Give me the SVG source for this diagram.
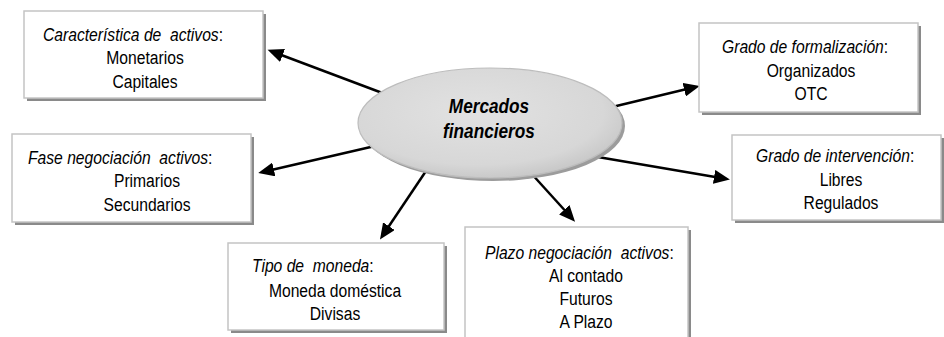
<svg xmlns="http://www.w3.org/2000/svg" width="944" height="337" viewBox="0 0 944 337">
<style>
.shadow{fill:#8a8a8a;}
.box{fill:#ffffff;stroke:#c4c4c4;stroke-width:1.5;}
.t{font-family:"Liberation Sans",Arial,sans-serif;font-size:18px;fill:#000;white-space:pre;}
.h{font-style:italic;}
.c{text-anchor:middle;}
.up{font-style:normal;}
.title{font-family:"Liberation Sans",Arial,sans-serif;font-size:21px;font-weight:bold;font-style:italic;text-anchor:middle;fill:#000;}
.conn{stroke:#000;stroke-width:2.5;fill:none;marker-end:url(#arr);}
</style>
<defs>
<marker id="arr" markerUnits="userSpaceOnUse" markerWidth="17" markerHeight="14" refX="7" refY="7" orient="auto">
<path d="M0,0 L16,7 L0,14 z" fill="#000"/>
</marker>
<radialGradient id="eg" cx="45%" cy="40%" r="60%">
<stop offset="0" stop-color="#e2e2e2"/>
<stop offset="0.8" stop-color="#d7d7d7"/>
<stop offset="1" stop-color="#c9c9c9"/>
</radialGradient>
</defs>
<rect width="944" height="337" fill="#ffffff"/>
<g id="connectors">
<line class="conn" x1="385" y1="94" x2="276" y2="53"/>
<line class="conn" x1="608" y1="108" x2="691" y2="88"/>
<line class="conn" x1="375" y1="146" x2="267" y2="171"/>
<line class="conn" x1="592" y1="156" x2="721" y2="178"/>
<line class="conn" x1="428" y1="168" x2="385" y2="232"/>
<line class="conn" x1="530" y1="172" x2="569" y2="215"/>
</g>
<g id="center">
<ellipse cx="493" cy="126" rx="132" ry="55" fill="#9c9c9c"/>
<ellipse cx="490" cy="123" rx="132" ry="55" fill="url(#eg)" stroke="#bdbdbd" stroke-width="1.2"/>
<text class="title" transform="translate(489,113) scale(0.82,1)">Mercados</text>
<text class="title" transform="translate(489,138) scale(0.82,1)">financieros</text>
</g>
<g id="caracteristica">
<rect class="shadow" x="27" y="14" width="239" height="87"/>
<rect class="box" x="24" y="11" width="239" height="87"/>
<text class="t h" xml:space="preserve" transform="translate(43,40.5) scale(0.87,1)">Característica de  activos<tspan class="up">:</tspan></text>
<text class="t c" transform="translate(145,64) scale(0.87,1)">Monetarios</text>
<text class="t c" transform="translate(145,87.5) scale(0.87,1)">Capitales</text>
</g>
<g id="formalizacion">
<rect class="shadow" x="702" y="26" width="219" height="89"/>
<rect class="box" x="699" y="23" width="219" height="89"/>
<text class="t h" transform="translate(722,53) scale(0.87,1)">Grado de formalización<tspan class="up">:</tspan></text>
<text class="t c" transform="translate(811,76.5) scale(0.87,1)">Organizados</text>
<text class="t c" transform="translate(811,100) scale(0.87,1)">OTC</text>
</g>
<g id="fase">
<rect class="shadow" x="15" y="137" width="239" height="88"/>
<rect class="box" x="12" y="134" width="239" height="88"/>
<text class="t h" xml:space="preserve" transform="translate(28,163.5) scale(0.87,1)">Fase negociación  activos<tspan class="up">:</tspan></text>
<text class="t c" transform="translate(147,187) scale(0.87,1)">Primarios</text>
<text class="t c" transform="translate(147,210.5) scale(0.87,1)">Secundarios</text>
</g>
<g id="intervencion">
<rect class="shadow" x="735" y="138" width="209" height="85"/>
<rect class="box" x="732" y="135" width="209" height="85"/>
<text class="t h" transform="translate(756,162) scale(0.87,1)">Grado de intervención<tspan class="up">:</tspan></text>
<text class="t c" transform="translate(841,185.5) scale(0.87,1)">Libres</text>
<text class="t c" transform="translate(841,209) scale(0.87,1)">Regulados</text>
</g>
<g id="moneda">
<rect class="shadow" x="231" y="246" width="216" height="87"/>
<rect class="box" x="228" y="243" width="216" height="87"/>
<text class="t h" xml:space="preserve" transform="translate(252,272) scale(0.87,1)">Tipo de  moneda<tspan class="up">:</tspan></text>
<text class="t c" transform="translate(335,297) scale(0.87,1)">Moneda doméstica</text>
<text class="t c" transform="translate(335,320) scale(0.87,1)">Divisas</text>
</g>
<g id="plazo">
<rect class="shadow" x="468" y="230" width="223" height="120"/>
<rect class="box" x="465" y="227" width="223" height="120"/>
<text class="t h" xml:space="preserve" transform="translate(485,258.5) scale(0.87,1)">Plazo negociación  activos<tspan class="up">:</tspan></text>
<text class="t c" transform="translate(586,282) scale(0.87,1)">Al contado</text>
<text class="t c" transform="translate(586,305) scale(0.87,1)">Futuros</text>
<text class="t c" transform="translate(586,328) scale(0.87,1)">A Plazo</text>
</g>
</svg>
